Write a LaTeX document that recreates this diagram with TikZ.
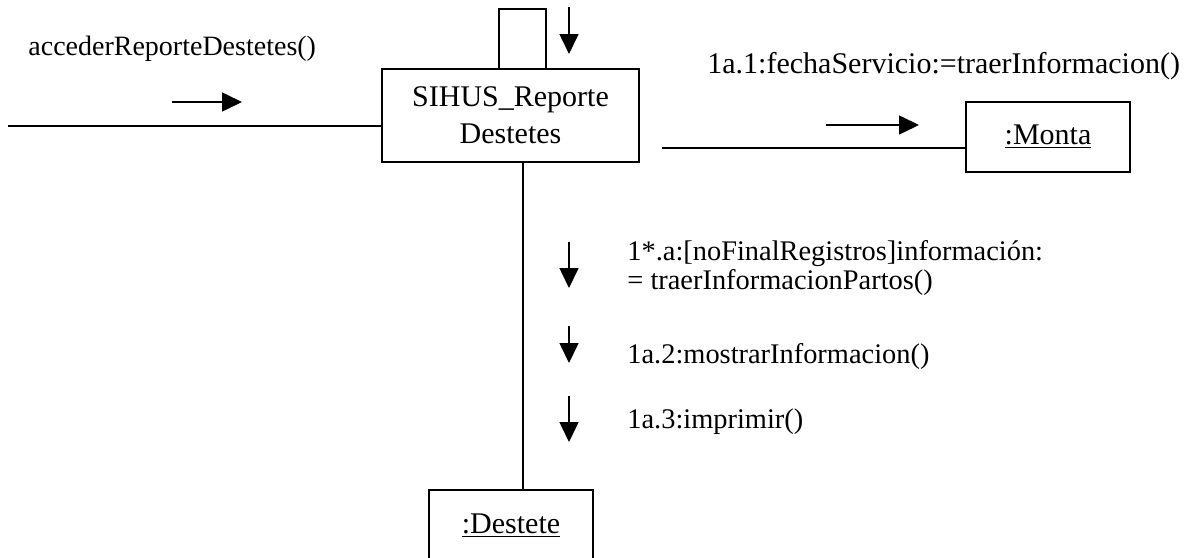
\documentclass[tikz,border=0pt]{standalone}
\usepackage{fontspec}
\setmainfont{Liberation Serif}
\usetikzlibrary{arrows.meta,calc}
\tikzset{
  objbox/.style={draw=black, line width=0.9pt, rectangle, inner sep=0pt, align=center},
  link/.style={draw=black, line width=0.8pt},
  msgarrow/.style={draw=black, line width=0.8pt, -{Triangle[length=10pt,width=9.5pt]}},
  msglabel/.style={anchor=base west, inner sep=0pt, font=\fontsize{14.2}{13}\selectfont, align=left},
}
\begin{document}
\begin{tikzpicture}[x=0.5pt,y=-0.5pt]
\useasboundingbox (0,0) rectangle (1187,557);
% objects
\node[objbox, minimum width=128.5pt, minimum height=46.5pt, font=\fontsize{15}{18.5}\selectfont] (main) at (510.5,115.5) {SIHUS\_Reporte\\Destetes};
\node[objbox, minimum width=82pt, minimum height=35pt, font=\fontsize{15}{18}\selectfont] (monta) at (1048,137) {\underline{:Monta}};
\node[objbox, minimum width=82pt, minimum height=36pt, font=\fontsize{15}{18}\selectfont] (destete) at (511,526) {\underline{:Destete}};
% coordinates
\coordinate (inL) at (8,126);
\coordinate (outR) at (662,148);
\coordinate (vx) at (523,0);
\coordinate (loopL) at (499,9);
\coordinate (loopR) at (546,9);
% links
\draw[link] (inL) -- (inL -| main.west);
\draw[link] (outR) -- (outR -| monta.west);
\draw[link] (main.south -| vx) -- (destete.north -| vx);
\draw[link] (main.north -| loopL) -- (loopL) -- (loopR) -- (main.north -| loopR);
% message arrows
\coordinate (a0s) at (569,7);   \coordinate (a0e) at (569,54);
\coordinate (a1s) at (172,102); \coordinate (a1e) at (242,102);
\coordinate (a2s) at (826,125); \coordinate (a2e) at (919,125);
\coordinate (a3s) at (569,242); \coordinate (a3e) at (569,288);
\coordinate (a4s) at (569,326); \coordinate (a4e) at (569,363);
\coordinate (a5s) at (569,396); \coordinate (a5e) at (569,442);
\draw[msgarrow] (a0s) -- (a0e);
\draw[msgarrow] (a1s) -- (a1e);
\draw[msgarrow] (a2s) -- (a2e);
\draw[msgarrow] (a3s) -- (a3e);
\draw[msgarrow] (a4s) -- (a4e);
\draw[msgarrow] (a5s) -- (a5e);
% labels
\node[msglabel, font=\fontsize{14}{14}\selectfont] (l1) at (28,55) {accederReporteDestetes()};
\node[msglabel, font=\fontsize{15}{18}\selectfont] (l2) at (707,73) {1a.1:fechaServicio:=traerInformacion()};
\node[msglabel] (l3) at (627,289) {1*.a:[noFinalRegistros]información:\\= traerInformacionPartos()};
\node[msglabel] (l4) at (627,363) {1a.2:mostrarInformacion()};
\node[msglabel] (l5) at (627,428) {1a.3:imprimir()};
\end{tikzpicture}
\end{document}
